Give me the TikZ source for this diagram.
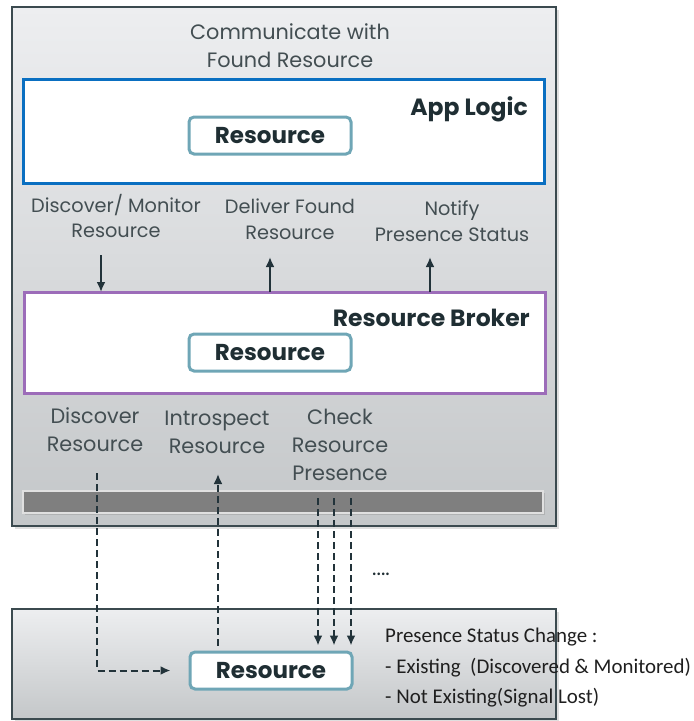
\documentclass[tikz,border=0pt]{standalone}
\usepackage{fontspec}
\setmainfont{Poppins}
\newfontfamily\calib{Carlito}
\usepackage{tikz}
\usetikzlibrary{arrows.meta,calc,shadows}
\definecolor{frameslate}{HTML}{3B4A4F}
\definecolor{panetop}{HTML}{EDEEF0}
\definecolor{panebot}{HTML}{C4C7C9}
\definecolor{applogic}{HTML}{0A6FC1}
\definecolor{broker}{HTML}{9C6CB9}
\definecolor{resedge}{HTML}{6FA6B6}
\definecolor{labelgray}{HTML}{434E52}
\definecolor{darkink}{HTML}{1F2E33}
\definecolor{arrowink}{HTML}{22333A}
\definecolor{barfill}{HTML}{7F7F7F}

\begin{document}
\begin{tikzpicture}[x=1pt,y=-1pt,
  pane/.style={draw=frameslate,line width=2.5pt,top color=panetop,bottom color=panebot,
    drop shadow={opacity=0.25,shadow xshift=3pt,shadow yshift=-3pt}},
  layer/.style={fill=white,line width=3pt},
  resbox/.style={draw=resedge,line width=3pt,fill=white,rounded corners=5pt,
    minimum width=162pt,minimum height=37pt,inner sep=0pt,text=darkink,
    font=\fontsize{23}{23}\selectfont\bfseries},
  title/.style={text=darkink,font=\fontsize{23.5}{23.5}\selectfont\bfseries,inner sep=0pt},
  lbl/.style={text=labelgray,align=center,inner sep=0pt,font=\fontsize{19.3}{25.5}\selectfont},
  lblbig/.style={text=labelgray,align=center,inner sep=0pt,font=\fontsize{20.8}{28}\selectfont},
  status/.style={anchor=base west,inner sep=0pt,text=black!88,font=\calib\fontsize{20.9}{20.9}\selectfont},
  arr/.style={draw=arrowink,line width=2pt,-{Latex[length=10pt,width=9pt]}},
  dasharr/.style={draw=arrowink,line width=2pt,dash pattern=on 7pt off 4pt,-{Latex[length=10pt,width=9pt]}}]
  \useasboundingbox (0,0) rectangle (694,721);
  % outer panes
  \path[pane] (12,7) rectangle (556,526);
  \path[pane] (12,609) rectangle (556,719);
  \node[lblbig] (found) at (290,46) {Communicate with\\Found Resource};
  % app logic layer
  \draw[layer,draw=applogic] (23,79) rectangle (544,183);
  \node[title,anchor=base east] (app) at (528,115) {App Logic};
  \node[resbox] (res1) at (270,135.5) {Resource};
  % labels between layers
  \node[lbl] (dm) at (116,216) {Discover/ Monitor\\Resource};
  \node[lbl] (deliver) at (290,219) {Deliver Found\\Resource};
  \node[lbl] (notify) at (452,221) {Notify\\Presence Status};
  % broker layer
  \draw[layer,draw=broker] (24,292) rectangle (545,393);
  \coordinate (btop) at (0,292);
  \node[title,anchor=base east] (brk) at (530,326) {Resource Broker};
  \node[resbox] (res2) at (270,352.5) {Resource};
  \coordinate (a1) at (101,255);
  \coordinate (a2) at (270,257);
  \coordinate (a3) at (430,257);
  \draw[arr] (a1) -- (a1 |- btop);
  \draw[arr] (a2 |- btop) -- (a2);
  \draw[arr] (a3 |- btop) -- (a3);
  % labels below broker
  \node[lblbig] (disc) at (95,430) {Discover\\Resource};
  \node[lblbig] (intro) at (217,432) {Introspect\\Resource};
  \node[lblbig] (check) at (340,445) {Check\\Resource\\Presence};
  % bus bar
  \path[fill=barfill,draw=white!88!black,line width=1.5pt,
    drop shadow={opacity=0.3,shadow xshift=1.5pt,shadow yshift=-1.5pt}] (23,491) rectangle (543,513);
  % device side
  \node[resbox] (res3) at (271,670.5) {Resource};
  \coordinate (d1) at (97,473);
  \coordinate (i1) at (218,474);
  \coordinate (c1) at (318,498);
  \draw[dasharr] (d1) |- ([xshift=-18pt]res3.west);
  \draw[dasharr] ([yshift=5pt]res3.north -| i1) -- (i1);
  \foreach \dx in {0,16,33}
    \draw[dasharr] ([xshift=\dx pt]c1) -- ([xshift=\dx pt,yshift=5pt]c1 |- res3.north);
  \node[text=darkink,font=\fontsize{21}{21}\selectfont] (more) at (381,574) {....};
  \node[status] (s1) at (385,642) {Presence Status Change :};
  \node[status] (s2) at (385,673) {- Existing\ \ (Discovered \& Monitored)};
  \node[status] (s3) at (385,703) {- Not Existing(Signal Lost)};
\end{tikzpicture}
\end{document}
